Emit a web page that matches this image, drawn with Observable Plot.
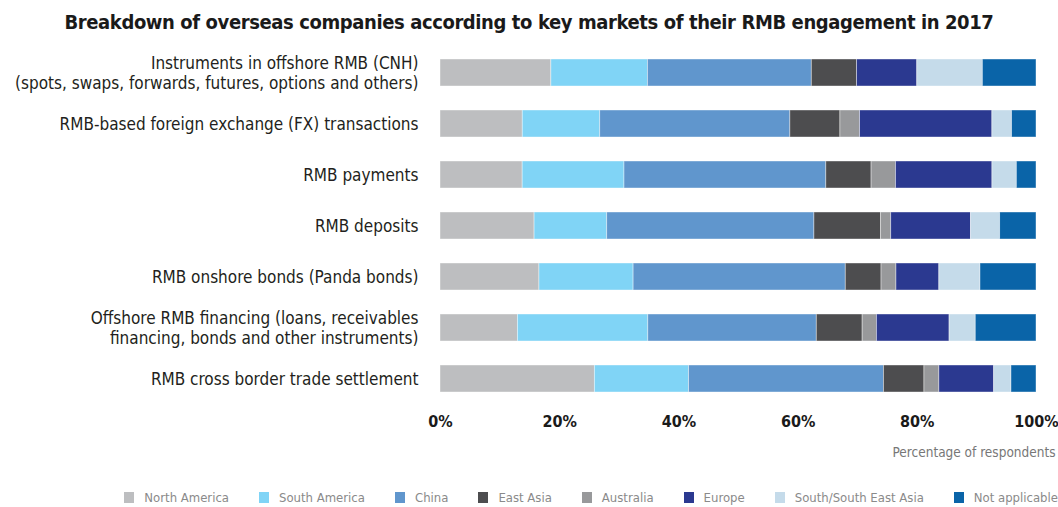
<!DOCTYPE html>
<html><head><meta charset="utf-8">
<script src="https://cdn.jsdelivr.net/npm/d3@7"></script>
<script src="https://cdn.jsdelivr.net/npm/@observablehq/plot@0.6"></script>
<style>
body{margin:0;background:#fff;}
#wrap{width:1058px;height:507px;position:relative;overflow:hidden;background:#fff;}
#title{position:absolute;left:0;top:6px;width:1058px;text-align:center;font-family:"DejaVu Sans Condensed","DejaVu Sans",sans-serif;font-weight:bold;font-size:20px;line-height:32px;color:#1a1a1a;letter-spacing:-0.4px;}
#chart{position:absolute;left:0;top:45px;}
#legend{position:absolute;left:0;top:487px;width:1058px;height:20px;display:flex;justify-content:flex-end;align-items:center;gap:30px;font-family:"Liberation Sans Narrow","DejaVu Sans Condensed",sans-serif;font-size:13px;color:#8a8a8a;}
#legend .item{display:flex;align-items:center;gap:10px;white-space:nowrap;}
#legend .sw{width:10px;height:11px;display:inline-block;}
g[aria-label="x-axis tick label"] text{font-weight:bold;}
</style>
</head><body>
<div id="wrap">
  <div id="title">Breakdown of overseas companies according to key markets of their RMB engagement in 2017</div>
  <div id="chart"></div>
  <div id="legend"></div>
</div>
<script>
const categories = [
  "Instruments in offshore RMB (CNH)\n(spots, swaps, forwards, futures, options and others)",
  "RMB-based foreign exchange (FX) transactions",
  "RMB payments",
  "RMB deposits",
  "RMB onshore bonds (Panda bonds)",
  "Offshore RMB financing (loans, receivables\nfinancing, bonds and other instruments)",
  "RMB cross border trade settlement"
];
const regions = ["North America", "South America", "China", "East Asia", "Australia", "Europe", "South/South East Asia", "Not applicable"];
const colors = ["#bdbec0", "#80d4f6", "#6096cd", "#4d4d4f", "#98999b", "#2b3990", "#c5dbea", "#0a64a8"];
const xTicks = [0, 0.2, 0.4, 0.6, 0.8, 1];

const northAmerica  = [18.6, 13.8, 13.8, 15.8, 16.6, 13.0, 25.9];
const southAmerica  = [16.2, 13.0, 17.1, 12.2, 15.8, 21.9, 15.8];
const china         = [27.5, 31.9, 33.9, 34.8, 35.6, 28.3, 32.7];
const eastAsia      = [7.6, 8.4, 7.6, 11.2, 6.0, 7.7, 6.8];
const australia     = [0.0, 3.3, 4.1, 1.7, 2.5, 2.4, 2.5];
const europe        = [10.1, 22.2, 16.2, 13.4, 7.2, 12.2, 9.2];
const southEastAsia = [11.0, 3.3, 4.1, 4.9, 6.9, 4.4, 2.9];
const notApplicable = [9.0, 4.1, 3.3, 6.1, 9.4, 10.2, 4.2];

const series = [northAmerica, southAmerica, china, eastAsia, australia, europe, southEastAsia, notApplicable];
const data = [];
categories.forEach((c, i) => regions.forEach((r, j) => data.push({category: c, region: r, value: series[j][i]})));

const labelFont = '"Liberation Sans Narrow","DejaVu Sans Condensed",sans-serif';
const boldFont = '"DejaVu Sans Condensed","DejaVu Sans",sans-serif';
const pct = d3.format(".0%");

const chart = Plot.plot({
  width: 1058,
  height: 430,
  marginLeft: 440,
  marginRight: 22,
  marginTop: 2.5,
  marginBottom: 70.5,
  style: {fontFamily: labelFont, fontSize: "16px", color: "#231f20", background: "#fff"},
  x: {domain: [0, 1], label: null},
  y: {domain: categories, paddingInner: 0.47, paddingOuter: 0.235, label: null},
  color: {domain: regions, range: colors},
  marks: [
    Plot.barX(data, Plot.stackX({x: "value", y: "category", fill: "region", offset: "normalize", order: regions, stroke: "#ffffff", strokeOpacity: 0.5, strokeWidth: 0.8})),
    Plot.axisY({tickSize: 0, tickPadding: 22, fontSize: 17, lineHeight: 1.18, fill: "#231f20", fontFamily: labelFont}),
    Plot.axisX({ticks: xTicks, tickFormat: pct, tickSize: 0, tickPadding: 11, fontSize: 16, fontWeight: "bold", fill: "#1a1a1a", fontFamily: boldFont, label: null}),
    Plot.text(["Percentage of respondents"], {frameAnchor: "bottom-right", dx: 19, dy: 51.5, textAnchor: "end", fill: "#777", fontSize: 13.5, fontFamily: labelFont})
  ]
});
document.getElementById("chart").appendChild(chart);

const legend = document.getElementById("legend");
regions.forEach((r, j) => {
  const item = document.createElement("div");
  item.className = "item";
  const sw = document.createElement("span");
  sw.className = "sw";
  sw.style.background = colors[j];
  const t = document.createElement("span");
  t.textContent = r;
  item.appendChild(sw);
  item.appendChild(t);
  legend.appendChild(item);
});
</script>
</body></html>
